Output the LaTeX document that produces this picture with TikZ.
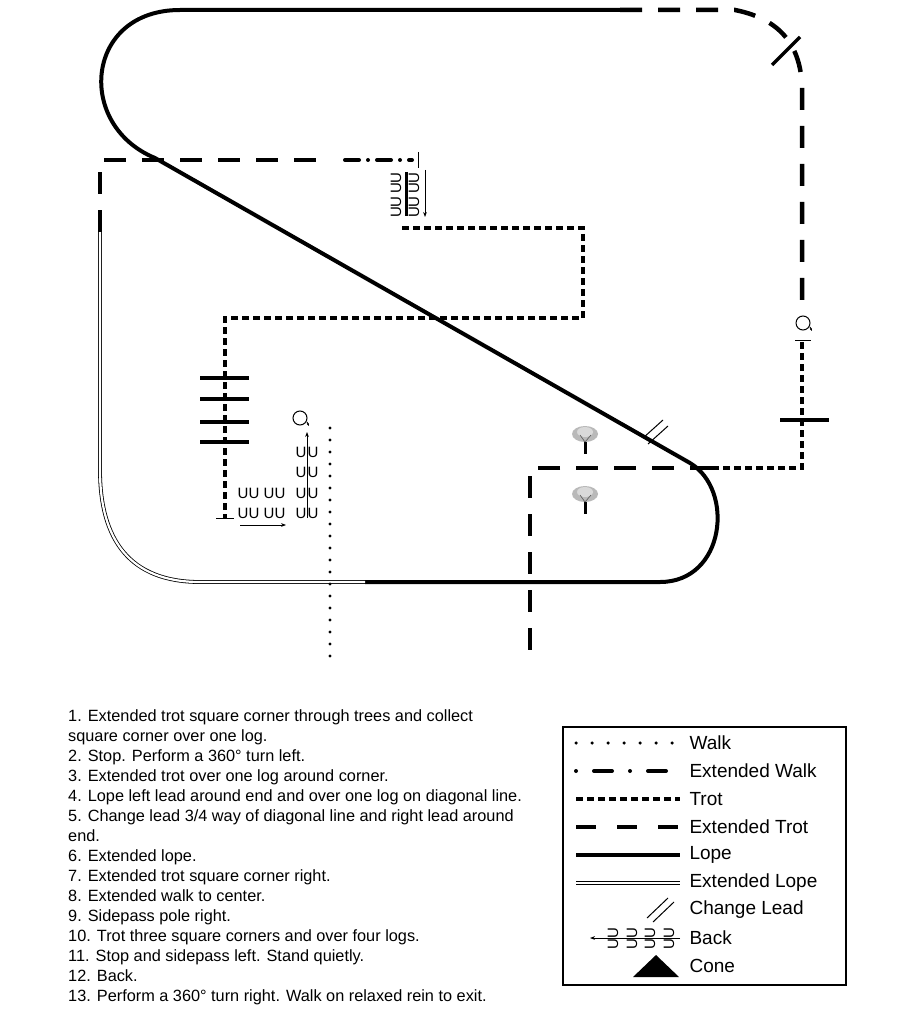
\documentclass[tikz,border=0pt]{standalone}
\usepackage{fontspec}
\setmainfont{Liberation Sans}
\usetikzlibrary{arrows.meta}
\begin{document}
\begin{tikzpicture}[
    x=1pt, y=-1pt,
    walk/.style={line width=3.2pt, line cap=round, dash pattern=on 0pt off 12pt},
    extwalk/.style={line width=4pt, line cap=round, dash pattern=on 14pt off 9pt on 0pt off 9pt},
    trot/.style={line width=4.5pt, dash pattern=on 7pt off 4pt},
    exttrot/.style={line width=4.5pt, dash pattern=on 22pt off 16pt},
    lope/.style={line width=4pt},
    extlope/.style={draw=black, double=white, line width=0.8pt, double distance=2.2pt},
    log/.style={line width=3.5pt},
    bk/.style={inner sep=0pt, font=\fontsize{15}{15}\selectfont},
    item/.style={anchor=west, font=\fontsize{19}{19}\selectfont}
]
    \useasboundingbox (0,0) rectangle (908,1024);

    % Lope around arena
    \draw[lope] (620,10) -- (180,10) .. controls (85,10) and (75,125) .. (155,158)
        -- (690,463) .. controls (735,490) and (725,582) .. (660,582) -- (365,582);
    \draw[extlope] (365,582) -- (200,582) .. controls (130,582) and (100,540) .. (100,470) -- (100,232);

    % Extended trot / walk along top left
    \draw[exttrot] (100,232) -- (100,160) -- (330,160);
    \draw[extwalk] (345,160) -- (412,160);
    \draw[line width=1pt] (418,152) -- (418,168);

    % Extended trot top right
    \draw[exttrot] (620,10) -- (735,10) .. controls (785,20) and (800,50) .. (802,85) -- (802,305);
    \draw[log] (772,65) -- (800,37);

    % Turn and trot right side
    \draw[line width=1pt] (803,323) circle (7);
    \draw[line width=1pt, -{Stealth[length=3pt]}] (810,327) -- (812,331);
    \draw[line width=1pt] (795,340) -- (811,340);
    \draw[trot] (802,342) -- (802,468) -- (712,468);
    \draw[log] (780,420) -- (829,420);
    \draw[exttrot] (712,468) -- (530,468) -- (530,665);

    % Change lead
    \draw[line width=1pt] (643,438) -- (663,420);
    \draw[line width=1pt] (648,444) -- (668,426);

    % Trees
    \foreach \ty in {440,500} {
        \fill (584,\ty-2) rectangle (587,\ty+14);
        \fill[gray!55] (585,\ty-6) ellipse (13 and 8);
        \fill[gray!30] (585,\ty-8) ellipse (8 and 5);
        \draw[gray!70!black, line width=0.6pt] (585,\ty+2) -- (580,\ty-5) (585,\ty+2) -- (591,\ty-5);
    }

    % Back top left
    \draw[line width=3pt] (406,172) -- (406,216);
    \foreach \by in {178,188,202,212} {
        \node[bk, rotate=90] at (396,\by) {U};
        \node[bk, rotate=90] at (414,\by) {U};
    }
    \draw[line width=1pt, -{Stealth[length=5pt]}] (425,170) -- (425,217);

    % Trot three corners
    \draw[trot] (402,228) -- (583,228) -- (583,318) -- (225,318) -- (225,518);
    \draw[line width=1pt] (216,518) -- (234,518);
    \foreach \ly in {378,399,422,442}
        \draw[log] (200,\ly) -- (249,\ly);

    % Sidepass and back
    \foreach \bx in {243,254,269,280} {
        \node[bk] at (\bx,493) {U};
        \node[bk] at (\bx,513) {U};
    }
    \draw[line width=1pt, -{Stealth[length=5pt]}] (240,525) -- (286,525);
    \foreach \by in {452,472,493,513} {
        \node[bk] at (301,\by) {U};
        \node[bk] at (313,\by) {U};
    }
    \draw[line width=1pt, -{Stealth[length=5pt]}] (307,518) -- (307,432);
    \draw[line width=1pt] (300,418) circle (7);
    \draw[line width=1pt, -{Stealth[length=3pt]}] (307,422) -- (309,426);

    % Walk out
    \draw[walk] (330,428) -- (330,664);

    % Instructions
    \node[anchor=north west, align=left, inner sep=0pt,
          font=\fontsize{16.3}{20}\selectfont] (pattern) at (68,709) {%
        1. Extended trot square corner through trees and collect\\
        square corner over one log.\\
        2. Stop. Perform a 360° turn left.\\
        3. Extended trot over one log around corner.\\
        4. Lope left lead around end and over one log on diagonal line.\\
        5. Change lead 3/4 way of diagonal line and right lead around\\
        end.\\
        6. Extended lope.\\
        7. Extended trot square corner right.\\
        8. Extended walk to center.\\
        9. Sidepass pole right.\\
        10. Trot three square corners and over four logs.\\
        11. Stop and sidepass left. Stand quietly.\\
        12. Back.\\
        13. Perform a 360° turn right. Walk on relaxed rein to exit.};

    % Legend
    \draw[line width=2pt] (563,727) rectangle (846,985);
    \draw[line width=3.5pt, line cap=round, dash pattern=on 0pt off 16pt] (576,743) -- (676,743);
    \node[item] at (686,743) {Walk};
    \draw[line width=4pt, line cap=round, dash pattern=on 0pt off 18pt on 18pt off 18pt] (576,771) -- (676,771);
    \node[item] at (686,771) {Extended Walk};
    \draw[line width=4.5pt, dash pattern=on 7pt off 4pt] (576,799) -- (680,799);
    \node[item] at (686,799) {Trot};
    \draw[line width=4.5pt, dash pattern=on 20pt off 21pt] (576,827) -- (680,827);
    \node[item] at (686,827) {Extended Trot};
    \draw[lope] (576,855) -- (680,855);
    \node[item] at (686,855) {Lope};
    \draw[extlope] (576,883) -- (680,883);
    \node[item] at (686,883) {Extended Lope};
    \draw[line width=1pt] (647,918) -- (668,898);
    \draw[line width=1pt] (653,922) -- (674,902);
    \node[item] at (686,910) {Change Lead};
    \foreach \bx in {613,632,650,669} {
        \node[bk, rotate=90] at (\bx,933) {U};
        \node[bk, rotate=90] at (\bx,944) {U};
    }
    \draw[line width=1pt, -{Stealth[length=5pt]}] (680,938) -- (590,938);
    \node[item] at (686,938) {Back};
    \fill (633,977) -- (679,977) -- (656,955) -- cycle;
    \node[item] at (686,966) {Cone};
\end{tikzpicture}
\end{document}
